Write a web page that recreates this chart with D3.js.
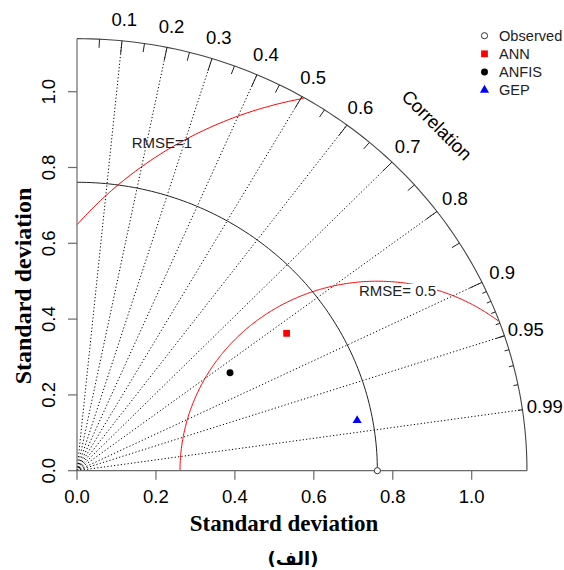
<!DOCTYPE html>
<html>
<head>
<meta charset="utf-8">
<script src="https://cdn.jsdelivr.net/npm/d3@7"></script>
<style>
  html, body { margin: 0; padding: 0; background: #fff; }
  svg { display: block; }
  .lab { font-family: "Liberation Sans", Arial, sans-serif; }
  .title { font-family: "Liberation Serif", "Times New Roman", serif; font-weight: bold; }
</style>
</head>
<body>
<svg id="chart" width="564" height="570"></svg>
<script>
// ---- data ----
const models = ["ANN", "ANFIS", "GEP"];
const modelSd = [0.643, 0.466, 0.722];
const modelCorr = [0.826, 0.832, 0.983];
const modelColors = ["#ff0000", "#000000", "#0000ff"];
const modelShapes = ["square", "circle", "triangle"];
const observedSd = 0.761;
const maxSd = 1.14;
const sdTicks = [0, 0.2, 0.4, 0.6, 0.8, 1.0];
const corrLabels = [0.1, 0.2, 0.3, 0.4, 0.5, 0.6, 0.7, 0.8, 0.9, 0.95, 0.99];
const corrMajorTicks = [0.1, 0.2, 0.3, 0.4, 0.5, 0.6, 0.7, 0.8, 0.9];
const corrMedTicks = [0.05, 0.15, 0.25, 0.35, 0.45, 0.55, 0.65, 0.75, 0.85, 0.95];
const corrSmallTicks = [0.91, 0.92, 0.93, 0.94, 0.95, 0.96, 0.97, 0.98, 0.99];
const rmseLevels = [0.5, 1];
const rmseLabels = ["RMSE= 0.5", "RMSE=1"];
const rmseLabelPos = [[0.812, 0.475], [0.215, 0.865]];
const legendNames = ["Observed", "ANN", "ANFIS", "GEP"];

// ---- scales ----
const svg = d3.select("#chart");
const x = d3.scaleLinear().domain([0, 1]).range([77, 471.7]);
const y = d3.scaleLinear().domain([0, 1]).range([470.7, 91.7]);

const polar = (r, c) => {
  const a = Math.acos(c);
  return [r * Math.cos(a), r * Math.sin(a)];
};
const line = d3.line().x(d => x(d[0])).y(d => y(d[1]));

// arc of radius r between angle 0 and pi/2
function arcPts(r) {
  return d3.range(0, 101).map(i => {
    const t = (Math.PI / 2) * i / 100;
    return [r * Math.cos(t), r * Math.sin(t)];
  });
}

// ---- correlation rays (dotted) ----
const gRays = svg.append("g");
corrLabels.forEach(c => {
  gRays.append("path")
    .attr("d", line([[0, 0], polar(maxSd, c)]))
    .attr("fill", "none").attr("stroke", "#000")
    .attr("stroke-width", 1).attr("stroke-dasharray", "1.2,2.2");
});

// ---- RMSE contours centred on the observed point ----
const gRmse = svg.append("g");
rmseLevels.forEach(g => {
  const pts = [];
  for (let i = 0; i <= 400; i++) {
    const t = Math.PI * i / 400;
    const px = observedSd + g * Math.cos(t);
    const py = g * Math.sin(t);
    if (px < 0) continue;
    if (px * px + py * py > maxSd * maxSd) continue;
    pts.push([px, py]);
  }
  gRmse.append("path").attr("d", line(pts))
    .attr("fill", "none").attr("stroke", "#ff0000").attr("stroke-width", 1);
});

// ---- reference sd arc ----
svg.append("path").attr("d", line(arcPts(observedSd)))
  .attr("fill", "none").attr("stroke", "#222").attr("stroke-width", 1);

// ---- outer arc and ticks ----
svg.append("path").attr("d", line(arcPts(maxSd)))
  .attr("fill", "none").attr("stroke", "#444").attr("stroke-width", 1.1);
const tickSet = (vals, f) => vals.forEach(c => {
  svg.append("path").attr("d", line([polar(maxSd, c), polar(maxSd * f, c)]))
    .attr("stroke", "#222").attr("stroke-width", 1);
});
tickSet(corrMajorTicks, 0.97);
tickSet(corrMedTicks, 0.98);
tickSet(corrSmallTicks, 0.99);

// correlation labels
corrLabels.forEach(c => {
  const p = polar(maxSd * 1.05, c);
  svg.append("text").attr("class", "lab")
    .attr("x", x(p[0])).attr("y", y(p[1])).attr("dy", "0.35em")
    .attr("text-anchor", "middle").attr("font-size", 18.5).attr("fill", "#000")
    .text(String(c));
});
svg.append("text").attr("class", "lab")
  .attr("transform", `translate(${x(maxSd * 0.8)},${y(maxSd * 0.8)}) rotate(45)`)
  .attr("dy", "0.35em").attr("text-anchor", "middle")
  .attr("font-size", 18.5).attr("fill", "#000").text("Correlation");

// ---- axes ----
const axisColor = "#6a6a6a";
svg.append("line").attr("x1", x(0)).attr("x2", x(maxSd)).attr("y1", y(0)).attr("y2", y(0))
  .attr("stroke", axisColor).attr("stroke-width", 1.2);
svg.append("line").attr("x1", x(0)).attr("x2", x(0)).attr("y1", y(0)).attr("y2", y(maxSd))
  .attr("stroke", axisColor).attr("stroke-width", 1.2);
sdTicks.forEach(v => {
  svg.append("line").attr("x1", x(v)).attr("x2", x(v)).attr("y1", y(0)).attr("y2", y(0) + 9)
    .attr("stroke", axisColor).attr("stroke-width", 1.2);
  svg.append("text").attr("class", "lab").attr("x", x(v)).attr("y", 503)
    .attr("text-anchor", "middle").attr("font-size", 18.5).attr("fill", "#000")
    .text(v.toFixed(1));
  svg.append("line").attr("x1", x(0) - 9).attr("x2", x(0)).attr("y1", y(v)).attr("y2", y(v))
    .attr("stroke", axisColor).attr("stroke-width", 1.2);
  svg.append("text").attr("class", "lab")
    .attr("transform", `translate(55,${y(v)}) rotate(-90)`)
    .attr("text-anchor", "middle").attr("font-size", 18.5).attr("fill", "#000")
    .text(v.toFixed(1));
});

// ---- RMSE labels ----
rmseLabels.forEach((t, i) => {
  const p = rmseLabelPos[i];
  const txt = svg.append("text").attr("class", "lab")
    .attr("x", x(p[0])).attr("y", y(p[1])).attr("dy", "0.35em")
    .attr("text-anchor", "middle").attr("font-size", 15).attr("fill", "#222").text(t);
  if (i === 0) {
    const bb = txt.node().getBBox();
    svg.insert("rect", () => txt.node())
      .attr("x", bb.x).attr("y", bb.y + 2).attr("width", bb.width + 1).attr("height", bb.height - 2)
      .attr("fill", "#fff");
  }
});

// ---- markers ----
const sym = {
  square: d3.symbol().type(d3.symbolSquare).size(46),
  circle: d3.symbol().type(d3.symbolCircle).size(38),
  triangle: d3.symbol().type(d3.symbolTriangle).size(36)
};
svg.append("path").attr("d", d3.symbol().type(d3.symbolCircle).size(30)())
  .attr("transform", `translate(${x(observedSd)},${y(0)})`)
  .attr("fill", "#fff").attr("stroke", "#333").attr("stroke-width", 1);
models.forEach((m, i) => {
  const p = polar(modelSd[i], modelCorr[i]);
  svg.append("path").attr("d", sym[modelShapes[i]]())
    .attr("transform", `translate(${x(p[0])},${y(p[1])})`)
    .attr("fill", modelColors[i]);
});

// ---- legend ----
const lg = svg.append("g");
legendNames.forEach((n, i) => {
  const ly = 35.7 + i * 18.1;
  if (i === 0) {
    lg.append("path").attr("d", d3.symbol().type(d3.symbolCircle).size(30)())
      .attr("transform", `translate(484.5,${ly})`)
      .attr("fill", "#fff").attr("stroke", "#333").attr("stroke-width", 1);
  } else {
    lg.append("path").attr("d", sym[modelShapes[i - 1]]())
      .attr("transform", `translate(484.5,${ly})`).attr("fill", modelColors[i - 1]);
  }
  lg.append("text").attr("class", "lab").attr("x", 499).attr("y", ly).attr("dy", "0.36em")
    .attr("font-size", 14.6).attr("fill", "#222").text(n);
});

// ---- titles ----
svg.append("text").attr("class", "title").attr("x", 284).attr("y", 531)
  .attr("text-anchor", "middle").attr("font-size", 23).attr("fill", "#000")
  .text("Standard deviation");
svg.append("text").attr("class", "title")
  .attr("transform", "translate(31,286) rotate(-90)")
  .attr("text-anchor", "middle").attr("font-size", 24).attr("fill", "#000")
  .text("Standard deviation");
svg.append("text").attr("x", 293).attr("y", 565)
  .attr("text-anchor", "middle").attr("font-size", 18).attr("font-weight", "bold")
  .attr("font-family", "'DejaVu Sans', 'Noto Sans', sans-serif").attr("fill", "#000")
  .attr("direction", "rtl").text("(الف)");
</script>
</body>
</html>
